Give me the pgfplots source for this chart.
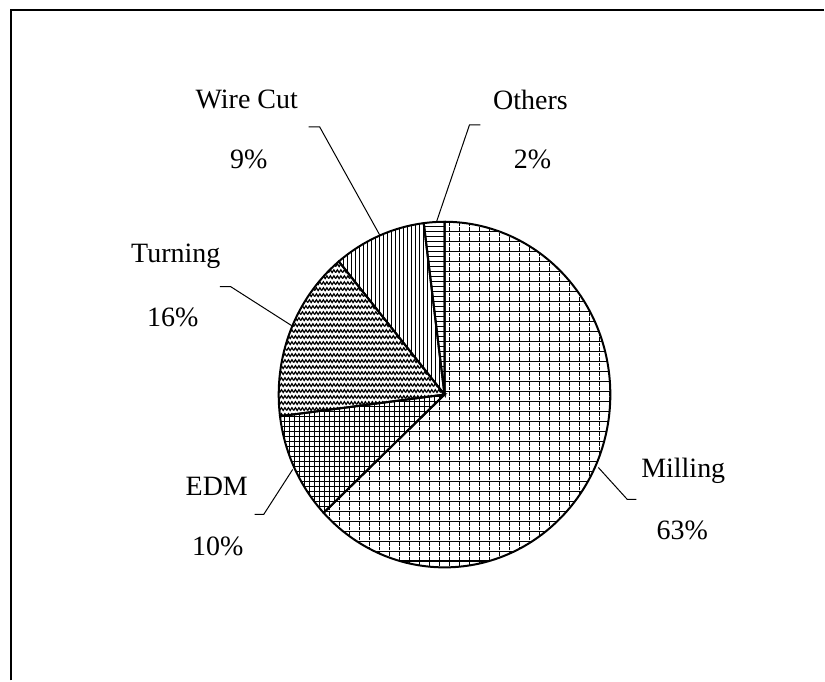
\documentclass[border=0pt]{standalone}
\usepackage{pgfplots}
\pgfplotsset{compat=1.18}
\usepackage{fontspec}
\setmainfont{Liberation Serif}
\usetikzlibrary{patterns}

\pgfdeclarepatternformonly{millp}{\pgfqpoint{-0.5pt}{-0.5pt}}{\pgfqpoint{5.5pt}{5.5pt}}{\pgfqpoint{5pt}{5pt}}{%
  \pgfsetlinewidth{0.8pt}%
  \pgfpathmoveto{\pgfqpoint{0pt}{0pt}}\pgfpathlineto{\pgfqpoint{5pt}{0pt}}%
  \pgfusepath{stroke}%
  \pgfsetlinewidth{0.65pt}%
  \pgfpathmoveto{\pgfqpoint{0pt}{0.5pt}}\pgfpathlineto{\pgfqpoint{0pt}{2.2pt}}%
  \pgfpathmoveto{\pgfqpoint{0pt}{2.8pt}}\pgfpathlineto{\pgfqpoint{0pt}{4.5pt}}%
  \pgfusepath{stroke}}
\pgfdeclarepatternformonly{edmp}{\pgfqpoint{-0.5pt}{-0.5pt}}{\pgfqpoint{3pt}{3pt}}{\pgfqpoint{2.5pt}{2.5pt}}{%
  \pgfsetlinewidth{0.6pt}%
  \pgfpathmoveto{\pgfqpoint{0pt}{0pt}}\pgfpathlineto{\pgfqpoint{2.5pt}{0pt}}%
  \pgfpathmoveto{\pgfqpoint{0pt}{0pt}}\pgfpathlineto{\pgfqpoint{0pt}{2.5pt}}%
  \pgfusepath{stroke}}
\pgfdeclarepatternformonly{wirep}{\pgfqpoint{-0.5pt}{-0.5pt}}{\pgfqpoint{2.5pt}{2.5pt}}{\pgfqpoint{2pt}{2pt}}{%
  \pgfsetlinewidth{0.6pt}%
  \pgfpathmoveto{\pgfqpoint{0pt}{0pt}}\pgfpathlineto{\pgfqpoint{0pt}{2pt}}%
  \pgfusepath{stroke}}
\pgfdeclarepatternformonly{othersp}{\pgfqpoint{-0.5pt}{-0.5pt}}{\pgfqpoint{3pt}{3pt}}{\pgfqpoint{2.5pt}{2.5pt}}{%
  \pgfsetlinewidth{0.6pt}%
  \pgfpathmoveto{\pgfqpoint{0pt}{0pt}}\pgfpathlineto{\pgfqpoint{2.5pt}{0pt}}%
  \pgfusepath{stroke}}
\pgfdeclarepatternformonly{turnp}{\pgfqpoint{-0.5pt}{-0.5pt}}{\pgfqpoint{4pt}{3.5pt}}{\pgfqpoint{3.5pt}{3pt}}{%
  \pgfsetlinewidth{0.6pt}%
  \pgfpathmoveto{\pgfqpoint{0pt}{0.5pt}}%
  \pgfpathlineto{\pgfqpoint{0.875pt}{1.9pt}}%
  \pgfpathlineto{\pgfqpoint{1.75pt}{0.5pt}}%
  \pgfpathlineto{\pgfqpoint{2.625pt}{1.9pt}}%
  \pgfpathlineto{\pgfqpoint{3.5pt}{0.5pt}}%
  \pgfusepath{stroke}}

\begin{document}
\begin{tikzpicture}
\begin{axis}[
  scale only axis, width=412.5pt, height=340.5pt,
  xmin=0, xmax=825, ymin=0, ymax=681,
  hide axis, clip=false,
]
\path (axis cs:0,0) rectangle (axis cs:825,681);
% frame
\draw[line width=0.9pt] (axis cs:11,0) -- (axis cs:11,671) -- (axis cs:825,671);
% pie: shares in percent, counter-clockwise from 90 degrees
\gdef\startang{90}
\foreach \v/\p in {2/othersp, 9/wirep, 16/turnp, 10/edmp, 63/millp} {
  \pgfmathsetmacro\endang{\startang+3.6*\v}
  \edef\temp{\noexpand\filldraw[line width=1pt, pattern=\p]
    (axis cs:445,286) -- ++(\startang:83pt and 86.5pt)
    arc[start angle=\startang, end angle=\endang, x radius=83pt, y radius=86.5pt] -- cycle;}
  \temp
  \global\let\startang\endang
}
% leader lines
\draw[line width=0.5pt] (axis cs:437,459) -- (axis cs:470,556) -- (axis cs:481,556);
\draw[line width=0.5pt] (axis cs:380,446) -- (axis cs:320,554) -- (axis cs:309,554);
\draw[line width=0.5pt] (axis cs:292,355) -- (axis cs:231,394) -- (axis cs:220,394);
\draw[line width=0.5pt] (axis cs:293,211) -- (axis cs:264,166) -- (axis cs:255,166);
\draw[line width=0.5pt] (axis cs:599,213) -- (axis cs:628,181) -- (axis cs:637,181);
% labels
\begin{scope}[every node/.style={font=\fontsize{14}{17}\selectfont, inner sep=0pt}]
\node at (axis cs:531,581) {Others};
\node at (axis cs:533,521) {2\%};
\node at (axis cs:247,581) {Wire Cut};
\node at (axis cs:249,521) {9\%};
\node at (axis cs:176,424) {Turning};
\node at (axis cs:173,363) {16\%};
\node at (axis cs:217,194) {EDM};
\node at (axis cs:218,134) {10\%};
\node at (axis cs:684,210) {Milling};
\node at (axis cs:683,150) {63\%};
\end{scope}
\end{axis}
\end{tikzpicture}
\end{document}
